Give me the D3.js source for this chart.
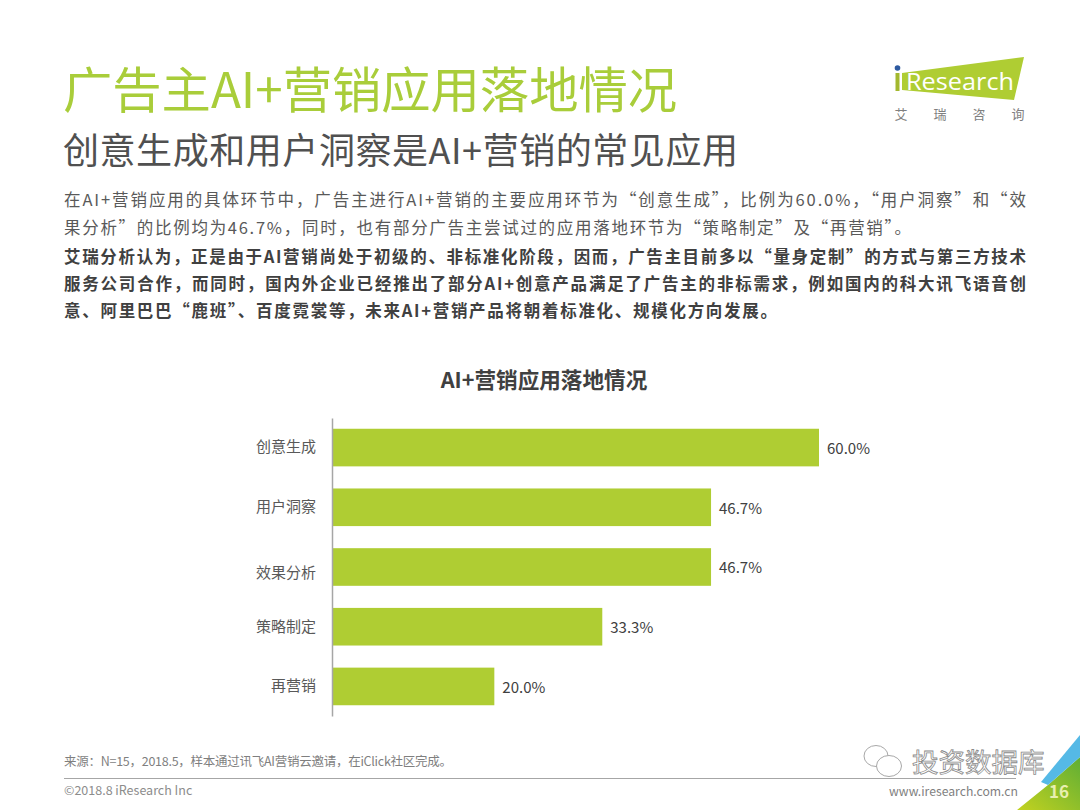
<!DOCTYPE html>
<html>
<head>
<meta charset="utf-8">
<script src="https://cdn.jsdelivr.net/npm/d3@7"></script>
<style>
  html, body { margin: 0; padding: 0; background: #fff; }
  text { font-family: "Noto Sans CJK SC", "Noto Sans", sans-serif; }
</style>
</head>
<body>
<div id="chart"></div>
<script>
// Data
const categories = ['创意生成', '用户洞察', '效果分析', '策略制定', '再营销']
const values = [60.0, 46.7, 46.7, 33.3, 20.0]

const pageTitle = '广告主AI+营销应用落地情况'
const pageSubtitle = '创意生成和用户洞察是AI+营销的常见应用'
const chartTitle = 'AI+营销应用落地情况'
const introLines = [
  '在AI+营销应用的具体环节中，广告主进行AI+营销的主要应用环节为“创意生成”，比例为60.0%，“用户洞察”和“效',
  '果分析”的比例均为46.7%，同时，也有部分广告主尝试过的应用落地环节为“策略制定”及“再营销”。'
]
const analysisLines = [
  '艾瑞分析认为，正是由于AI营销尚处于初级的、非标准化阶段，因而，广告主目前多以“量身定制”的方式与第三方技术',
  '服务公司合作，而同时，国内外企业已经推出了部分AI+创意产品满足了广告主的非标需求，例如国内的科大讯飞语音创',
  '意、阿里巴巴“鹿班”、百度霓裳等，未来AI+营销产品将朝着标准化、规模化方向发展。'
]
const sourceNote = '来源：N=15，2018.5，样本通过讯飞AI营销云邀请，在iClick社区完成。'
const copyright = '©2018.8 iResearch Inc'
const website = 'www.iresearch.com.cn'
const pageNumber = '16'

const svg = d3.select('#chart')
  .append('svg')
  .attr('width', 1080)
  .attr('height', 810)
  .style('display', 'block')

const defs = svg.append('defs')
const cornerGrad = defs.append('linearGradient')
  .attr('id', 'cornerGrad')
  .attr('x1', 0).attr('x2', 1).attr('y1', 1).attr('y2', 0)
cornerGrad.append('stop').attr('offset', '0%').attr('stop-color', '#c3d21f')
cornerGrad.append('stop').attr('offset', '100%').attr('stop-color', '#5fae35')

// Headings
svg.append('text')
  .attr('x', 63).attr('y', 108)
  .attr('font-size', 49.3)
  .attr('fill', '#a9cd3a')
  .text(pageTitle)

svg.append('text')
  .attr('x', 63).attr('y', 164)
  .attr('font-size', 36)
  .attr('textLength', 675)
  .attr('lengthAdjust', 'spacing')
  .attr('fill', '#505050')
  .text(pageSubtitle)

// Body text, every line is stretched to its measured width
const bodyText = (lines, widths, startY, step, weight) => {
  lines.forEach((line, i) => {
    svg.append('text')
      .attr('x', 64).attr('y', startY + i * step)
      .attr('font-size', 16.5)
      .attr('font-weight', weight)
      .attr('fill', weight > 400 ? '#404040' : '#595959')
      .attr('textLength', widths[i])
      .attr('lengthAdjust', 'spacing')
      .text(line)
  })
}
bodyText(introLines, [962, 847], 206, 28, 400)
bodyText(analysisLines, [962, 962, 713], 263, 27, 700)

// Chart
const xScale = d3.scaleLinear()
  .domain([0, 60])
  .range([332, 819])

const yScale = d3.scaleBand()
  .domain(categories)
  .range([418, 716])
  .paddingInner(0.37)
  .paddingOuter(0.18)

svg.append('text')
  .attr('x', 544).attr('y', 388)
  .attr('text-anchor', 'middle')
  .attr('font-size', 21.6)
  .attr('font-weight', 700)
  .attr('fill', '#404040')
  .text(chartTitle)

svg.selectAll('.bar')
  .data(values)
  .join('rect')
  .attr('class', 'bar')
  .attr('x', xScale(0))
  .attr('y', (d, i) => yScale(categories[i]))
  .attr('width', d => xScale(d) - xScale(0))
  .attr('height', yScale.bandwidth())
  .attr('fill', '#afcd33')

svg.selectAll('.value')
  .data(values)
  .join('text')
  .attr('class', 'value')
  .attr('x', d => xScale(d) + 8)
  .attr('y', (d, i) => yScale(categories[i]) + yScale.bandwidth() / 2)
  .attr('dy', '0.42em')
  .attr('font-size', 15)
  .attr('fill', '#404040')
  .text(d => `${d.toFixed(1)}%`)

const yAxis = d3.axisLeft(yScale).tickSize(0).tickPadding(16)
const yAxisGroup = svg.append('g')
  .attr('transform', `translate(${xScale(0)}, 0)`)
  .call(yAxis)

yAxisGroup.select('.domain')
  .attr('stroke', '#a6a6a6')
  .attr('stroke-width', 1.5)

yAxisGroup.selectAll('text')
  .attr('font-size', 15)
  .attr('fill', '#595959')
  .style('font-family', '"Noto Sans CJK SC", sans-serif')

// the third label sits a little low in the original
yAxisGroup.selectAll('.tick text')
  .filter((d, i) => i === 2)
  .attr('y', 6)

// Footer
svg.append('text')
  .attr('x', 64).attr('y', 766)
  .attr('font-size', 12.5)
  .attr('textLength', 388)
  .attr('lengthAdjust', 'spacing')
  .attr('fill', '#7f7f7f')
  .text(sourceNote)

svg.append('line')
  .attr('x1', 64).attr('x2', 1016)
  .attr('y1', 778.5).attr('y2', 778.5)
  .attr('stroke', '#a6a6a6')

svg.append('text')
  .attr('x', 64).attr('y', 795)
  .attr('font-size', 12.5)
  .attr('fill', '#8c8c8c')
  .text(copyright)

svg.append('text')
  .attr('x', 1018).attr('y', 796)
  .attr('text-anchor', 'end')
  .attr('font-size', 12.2)
  .attr('fill', '#7f7f7f')
  .text(website)

// Corner
svg.append('path')
  .attr('d', 'M1017,810 L1048,785 L1080,757 L1080,810 Z')
  .attr('fill', 'url(#cornerGrad)')
svg.append('path')
  .attr('d', 'M1041,782 L1080,735 L1080,757 L1048,785 Z')
  .attr('fill', '#55b9e6')
svg.append('text')
  .attr('x', 1059).attr('y', 798)
  .attr('text-anchor', 'middle')
  .attr('font-size', 17)
  .attr('font-weight', 700)
  .attr('fill', '#e8efb0')
  .text(pageNumber)

// Logo
const logo = svg.append('g')
logo.append('path')
  .attr('d', 'M902,73 L1024,57 L1014,100 L902,90 Z')
  .attr('fill', '#afcd33')
logo.append('text')
  .attr('x', 906).attr('y', 90)
  .attr('font-size', 24)
  .attr('textLength', 108)
  .attr('lengthAdjust', 'spacingAndGlyphs')
  .style('font-family', '"Open Sans", sans-serif')
  .attr('fill', '#fff')
  .text('Research')
logo.append('rect')
  .attr('x', 895.5).attr('y', 73).attr('width', 4).attr('height', 18)
  .attr('fill', '#a3b82e')
logo.append('circle')
  .attr('cx', 897.5).attr('cy', 68).attr('r', 2.8)
  .attr('fill', '#2d5aa0')
logo.selectAll('.logoName')
  .data(['艾', '瑞', '咨', '询'])
  .join('text')
  .attr('class', 'logoName')
  .attr('x', (d, i) => 901 + i * 39)
  .attr('y', 119)
  .attr('text-anchor', 'middle')
  .attr('font-size', 13)
  .attr('fill', '#7f7f7f')
  .text(d => d)

// Watermark
const mark = svg.append('g')
  .attr('fill', '#fff')
  .attr('stroke', '#a8a8a8')
  .attr('stroke-width', 1)
mark.append('ellipse').attr('cx', 876).attr('cy', 756).attr('rx', 12).attr('ry', 10.5)
mark.append('ellipse').attr('cx', 889).attr('cy', 766).attr('rx', 12.5).attr('ry', 10.5)
svg.append('text')
  .attr('x', 912).attr('y', 772)
  .attr('font-size', 26.5)
  .attr('fill', '#fff')
  .attr('stroke', '#8a8a8a')
  .attr('stroke-width', 0.8)
  .text('投资数据库')
</script>
</body>
</html>
